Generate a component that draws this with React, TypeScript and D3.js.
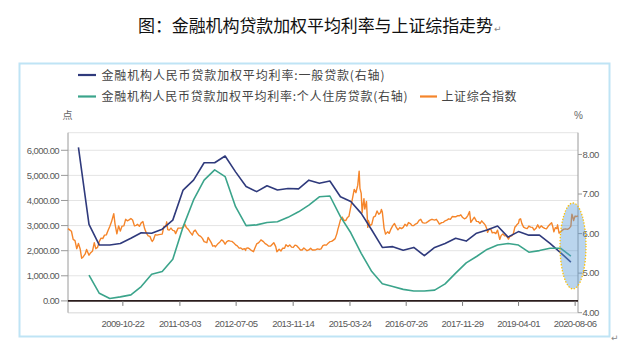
import React from 'react';
import * as d3 from 'd3';

// ---- data ----
const quarterEnds = [
  '2008-09-30', '2008-12-31',
  '2009-03-31', '2009-06-30', '2009-09-30', '2009-12-31',
  '2010-03-31', '2010-06-30', '2010-09-30', '2010-12-31',
  '2011-03-31', '2011-06-30', '2011-09-30', '2011-12-31',
  '2012-03-31', '2012-06-30', '2012-09-30', '2012-12-31',
  '2013-03-31', '2013-06-30', '2013-09-30', '2013-12-31',
  '2014-03-31', '2014-06-30', '2014-09-30', '2014-12-31',
  '2015-03-31', '2015-06-30', '2015-09-30', '2015-12-31',
  '2016-03-31', '2016-06-30', '2016-09-30', '2016-12-31',
  '2017-03-31', '2017-06-30', '2017-09-30', '2017-12-31',
  '2018-03-31', '2018-06-30', '2018-09-30', '2018-12-31',
  '2019-03-31', '2019-06-30', '2019-09-30', '2019-12-31',
  '2020-03-31', '2020-06-30',
];

const generalLoanRate = [
  8.18, 6.23, 5.71, 5.71, 5.75, 5.88, 6.02, 6.01, 6.11, 6.34,
  7.10, 7.35, 7.79, 7.79, 7.96, 7.56, 7.19, 7.06, 7.21, 7.10,
  7.14, 7.13, 7.35, 7.27, 7.33, 6.93, 6.81, 6.51, 6.09, 5.65,
  5.67, 5.58, 5.65, 5.44, 5.65, 5.75, 5.88, 5.81, 6.01, 6.09,
  6.19, 5.91, 6.05, 5.96, 5.96, 5.75, 5.52, 5.28,
];

const mortgageRate: (number | null)[] = [
  null, 4.95, 4.49, 4.36, 4.40, 4.45, 4.66, 4.97, 5.04, 5.35,
  6.17, 6.85, 7.35, 7.61, 7.44, 6.68, 6.20, 6.22, 6.28, 6.30,
  6.41, 6.55, 6.72, 6.93, 6.95, 6.43, 6.02, 5.50, 5.04, 4.73,
  4.66, 4.59, 4.55, 4.55, 4.57, 4.73, 5.00, 5.26, 5.42, 5.60,
  5.71, 5.75, 5.71, 5.53, 5.57, 5.63, 5.63, 5.43,
];

const sseDates = [
  '2008-07-01','2008-07-15','2008-07-31','2008-08-15','2008-08-31','2008-09-15','2008-09-30','2008-10-15','2008-10-28','2008-11-10','2008-11-28','2008-12-10','2008-12-31',
  '2009-01-15','2009-01-31','2009-02-15','2009-02-28','2009-03-15','2009-03-31','2009-04-15','2009-04-30','2009-05-15','2009-05-31','2009-06-15','2009-06-30','2009-07-15','2009-07-31','2009-08-04','2009-08-15','2009-08-31','2009-09-15','2009-09-30','2009-10-15','2009-10-31','2009-11-15','2009-11-30','2009-12-15','2009-12-31',
  '2010-01-15','2010-01-31','2010-02-15','2010-02-28','2010-03-15','2010-03-31','2010-04-15','2010-04-30','2010-05-15','2010-05-31','2010-06-15','2010-06-30','2010-07-05','2010-07-15','2010-07-31','2010-08-15','2010-08-31','2010-09-15','2010-09-30','2010-10-15','2010-10-31','2010-11-08','2010-11-17','2010-11-30','2010-12-15','2010-12-31',
  '2011-01-15','2011-01-25','2011-02-15','2011-02-28','2011-03-15','2011-03-31','2011-04-15','2011-04-30','2011-05-15','2011-05-31','2011-06-20','2011-06-30','2011-07-15','2011-07-31','2011-08-15','2011-08-31','2011-09-15','2011-09-30','2011-10-24','2011-11-04','2011-11-30','2011-12-15','2011-12-31',
  '2012-01-06','2012-01-31','2012-02-15','2012-02-29','2012-03-15','2012-03-31','2012-04-15','2012-04-30','2012-05-15','2012-05-31','2012-06-15','2012-06-30','2012-07-15','2012-07-31','2012-08-15','2012-08-31','2012-09-15','2012-09-26','2012-09-30','2012-10-15','2012-10-31','2012-11-15','2012-12-03','2012-12-15','2012-12-31',
  '2013-01-15','2013-01-31','2013-02-06','2013-02-28','2013-03-15','2013-03-31','2013-04-15','2013-04-30','2013-05-29','2013-06-15','2013-06-25','2013-06-30','2013-07-15','2013-07-31','2013-08-15','2013-08-31','2013-09-12','2013-09-30','2013-10-15','2013-10-31','2013-11-15','2013-11-30','2013-12-15','2013-12-31',
  '2014-01-15','2014-01-31','2014-02-15','2014-02-28','2014-03-15','2014-03-31','2014-04-15','2014-04-30','2014-05-15','2014-05-31','2014-06-15','2014-06-30','2014-07-15','2014-07-31','2014-08-15','2014-08-31','2014-09-15','2014-09-30','2014-10-15','2014-10-31','2014-11-15','2014-11-30','2014-12-09','2014-12-15','2014-12-31',
  '2015-01-15','2015-01-31','2015-02-15','2015-02-28','2015-03-15','2015-03-31','2015-04-15','2015-04-30','2015-05-15','2015-05-31','2015-06-12','2015-06-19','2015-06-30','2015-07-08','2015-07-15','2015-07-24','2015-07-31','2015-08-15','2015-08-26','2015-08-31','2015-09-15','2015-09-30','2015-10-15','2015-10-31','2015-11-15','2015-11-30','2015-12-15','2015-12-23','2015-12-31',
  '2016-01-15','2016-01-28','2016-02-15','2016-02-29','2016-03-15','2016-03-31','2016-04-15','2016-04-30','2016-05-15','2016-05-31','2016-06-15','2016-06-30','2016-07-15','2016-07-31','2016-08-15','2016-08-31','2016-09-15','2016-09-30','2016-10-15','2016-10-31','2016-11-15','2016-11-30','2016-12-15','2016-12-31',
  '2017-01-15','2017-01-31','2017-02-15','2017-02-28','2017-03-15','2017-03-31','2017-04-15','2017-04-30','2017-05-11','2017-05-31','2017-06-15','2017-06-30','2017-07-15','2017-07-31','2017-08-15','2017-08-31','2017-09-15','2017-09-30','2017-10-15','2017-10-31','2017-11-14','2017-11-30','2017-12-15','2017-12-31',
  '2018-01-15','2018-01-29','2018-02-09','2018-02-28','2018-03-12','2018-03-31','2018-04-15','2018-04-30','2018-05-15','2018-05-31','2018-06-15','2018-06-30','2018-07-05','2018-07-15','2018-07-31','2018-08-15','2018-08-31','2018-09-15','2018-09-30','2018-10-19','2018-10-31','2018-11-15','2018-11-30','2018-12-15','2018-12-31',
  '2019-01-03','2019-01-15','2019-01-31','2019-02-15','2019-02-28','2019-03-08','2019-03-15','2019-03-31','2019-04-08','2019-04-19','2019-04-30','2019-05-15','2019-05-31','2019-06-15','2019-06-30','2019-07-15','2019-07-31','2019-08-15','2019-08-31','2019-09-15','2019-09-30','2019-10-15','2019-10-31','2019-11-15','2019-11-30','2019-12-15','2019-12-31',
  '2020-01-14','2020-01-23','2020-02-03','2020-02-15','2020-02-28','2020-03-06','2020-03-19','2020-03-31','2020-04-15','2020-04-30','2020-05-15','2020-05-31','2020-06-15','2020-06-30','2020-07-06','2020-07-09','2020-07-15','2020-07-24','2020-07-31','2020-08-06','2020-08-14','2020-08-25','2020-08-31',
];

const sseValues = [
  2880, 2830, 2775, 2450, 2400, 2080, 2290, 2070, 1700, 1750, 1870, 2050, 1820,
  1920, 1990, 2320, 2080, 2130, 2370, 2500, 2480, 2620, 2630, 2800, 2960, 3150, 3410, 3470, 3060, 2670, 2990, 2780, 2980, 2990, 3250, 3190, 3230, 3280,
  3220, 2990, 3010, 3050, 2970, 3110, 3160, 2870, 2700, 2590, 2570, 2400, 2370, 2430, 2640, 2620, 2640, 2650, 2660, 2970, 2980, 3150, 2840, 2820, 2900, 2810,
  2790, 2680, 2900, 2900, 2900, 2930, 3050, 2910, 2850, 2740, 2620, 2760, 2820, 2700, 2610, 2570, 2490, 2360, 2320, 2530, 2330, 2180, 2200,
  2150, 2290, 2350, 2430, 2380, 2260, 2360, 2400, 2380, 2370, 2310, 2230, 2190, 2100, 2110, 2050, 2080, 2010, 2090, 2110, 2070, 2010, 1960, 2100, 2270,
  2310, 2390, 2430, 2360, 2280, 2240, 2180, 2180, 2320, 2160, 1960, 1980, 2060, 1990, 2100, 2100, 2240, 2170, 2230, 2140, 2130, 2220, 2200, 2120,
  2030, 2030, 2110, 2060, 2000, 2030, 2100, 2030, 2030, 2040, 2070, 2050, 2070, 2200, 2230, 2220, 2300, 2360, 2370, 2420, 2480, 2680, 2860, 2950, 3230,
  3340, 3210, 3200, 3310, 3370, 3750, 4080, 4440, 4310, 4610, 5170, 4480, 4280, 3510, 3800, 4070, 3660, 3960, 2930, 3200, 3000, 3050, 3340, 3380, 3580, 3450, 3510, 3640, 3540,
  2900, 2660, 2750, 2690, 2860, 3000, 3080, 2940, 2830, 2920, 2880, 2930, 3050, 2980, 3120, 3080, 3000, 3000, 3060, 3100, 3210, 3250, 3120, 3100,
  3110, 3160, 3210, 3240, 3240, 3220, 3250, 3150, 3060, 3120, 3130, 3190, 3220, 3270, 3250, 3360, 3350, 3350, 3390, 3390, 3430, 3320, 3270, 3310,
  3410, 3560, 3130, 3260, 3330, 3170, 3160, 3080, 3190, 3100, 3020, 2850, 2730, 2830, 2880, 2710, 2730, 2680, 2820, 2450, 2600, 2670, 2590, 2590, 2490,
  2460, 2570, 2590, 2680, 2940, 2970, 3020, 3090, 3250, 3270, 3080, 2940, 2900, 2880, 2980, 2940, 2930, 2820, 2890, 3030, 2900, 2990, 2930, 2890, 2870, 2970, 3050,
  3110, 2980, 2750, 2920, 2880, 3030, 2700, 2750, 2810, 2860, 2870, 2850, 2890, 2980, 3330, 3450, 3360, 3200, 3310, 3380, 3360, 3370, 3390,
];

const xTickDates = ['2009-10-22', '2011-03-03', '2012-07-05', '2013-11-14', '2015-03-24', '2016-07-26', '2017-11-29', '2019-04-01', '2020-08-06'];
const leftTicks = [0, 1000, 2000, 3000, 4000, 5000, 6000];
const rightTicks = [4, 5, 6, 7, 8];

const titleText = '图：金融机构贷款加权平均利率与上证综指走势';
const seriesNames = [
  '金融机构人民币贷款加权平均利率:一般贷款(右轴)',
  '金融机构人民币贷款加权平均利率:个人住房贷款(右轴)',
  '上证综合指数',
];

// ---- styles ----
const C_BLUE = '#2f3a7c';
const C_GREEN = '#3ba48b';
const C_ORANGE = '#f5852a';
const CJK = '"Noto Sans CJK SC", "Noto Sans", sans-serif';
const LAT = '"Liberation Sans", Arial, sans-serif';

export default function App() {
  const parse = d3.utcParse('%Y-%m-%d');
  const x = d3.scaleUtc()
    .domain([parse('2008-07-01') as Date, parse('2020-08-31') as Date])
    .range([68, 578]);
  const yL = d3.scaleLinear().domain([-470, 6700]).range([312.7, 132.7]);
  const yR = d3.scaleLinear().domain([4, 8.55]).range([312.7, 132.7]);

  const qDates = quarterEnds.map((d) => parse(d) as Date);
  const sDates = sseDates.map((d) => parse(d) as Date);

  const rateLine = d3.line<number | null>()
    .defined((d) => d != null)
    .x((_, i) => x(qDates[i]))
    .y((d) => yR(d as number));
  const sseLine = d3.line<number>()
    .x((_, i) => x(sDates[i]))
    .y((d) => yL(d));

  const fmtL = d3.format(',.2f');
  const fmtR = d3.format('.2f');
  const top = yL.range()[1];
  const bottom = yL.range()[0];
  const [xl, xr] = x.range();

  return (
    <div style={{ position: 'absolute', left: 0, top: 0 }}>
      <svg width={623} height={359} style={{ display: 'block', background: '#fff' }}>
        {/* title */}
        <text x={138} y={32} fontFamily={CJK} fontSize={17} fill="#111" textLength={355} lengthAdjust="spacing">
          {titleText}
        </text>
        <text x={494} y={32} fontFamily='"DejaVu Sans", sans-serif' fontSize={9} fill="#888">↵</text>

        {/* frame */}
        <rect x={19.5} y={63.5} width={590} height={273} fill="none" stroke="#bfe4f5" strokeWidth={2} />
        <text x={611} y={341} fontFamily='"DejaVu Sans", sans-serif' fontSize={9} fill="#888">↵</text>

        {/* legend */}
        <line x1={78} x2={96} y1={75} y2={75} stroke={C_BLUE} strokeWidth={2.2} />
        <text x={101.5} y={79.5} fontFamily={CJK} fontSize={12} fill="#444" textLength={283} lengthAdjust="spacing">{seriesNames[0]}</text>
        <line x1={78} x2={96} y1={96.5} y2={96.5} stroke={C_GREEN} strokeWidth={2.2} />
        <text x={101.5} y={101} fontFamily={CJK} fontSize={12} fill="#444" textLength={306} lengthAdjust="spacing">{seriesNames[1]}</text>
        <line x1={420} x2={437} y1={96.5} y2={96.5} stroke={C_ORANGE} strokeWidth={2.2} />
        <text x={441.5} y={101} fontFamily={CJK} fontSize={12} fill="#444" textLength={75} lengthAdjust="spacing">{seriesNames[2]}</text>

        <text x={67.5} y={119} textAnchor="middle" fontFamily={CJK} fontSize={10} fill="#666">点</text>
        <text x={578.5} y={119} textAnchor="middle" fontFamily={LAT} fontSize={10} fill="#666">%</text>

        {/* gridlines */}
        {leftTicks.filter((t) => t !== 0).map((t) => (
          <line key={'g' + t} x1={xl} x2={xr} y1={yL(t)} y2={yL(t)} stroke="#e4e4e4" strokeWidth={1} />
        ))}
        <line x1={xl} x2={xr} y1={top} y2={top} stroke="#e4e4e4" strokeWidth={1} />
        <line x1={xl} x2={xr} y1={bottom} y2={bottom} stroke="#e4e4e4" strokeWidth={1.5} />

        {/* axes */}
        <line x1={xl} x2={xl} y1={top} y2={bottom} stroke="#9a9a9a" strokeWidth={1} />
        <line x1={xr} x2={xr} y1={top} y2={bottom} stroke="#9a9a9a" strokeWidth={1} />
        {leftTicks.map((t) => (
          <g key={'l' + t}>
            <line x1={xl - 7} x2={xl} y1={yL(t)} y2={yL(t)} stroke="#9a9a9a" />
            <text x={xl - 9} y={yL(t) + 3.3} textAnchor="end" fontFamily={LAT} fontSize={9.5} letterSpacing={-0.6} fill="#595959">{fmtL(t)}</text>
          </g>
        ))}
        {rightTicks.map((t) => (
          <g key={'r' + t}>
            <line x1={xr} x2={xr + 4} y1={yR(t)} y2={yR(t)} stroke="#9a9a9a" />
            <text x={xr + 4.5} y={yR(t) + 3.3} textAnchor="start" fontFamily={LAT} fontSize={9.5} letterSpacing={-0.6} fill="#595959">{fmtR(t)}</text>
          </g>
        ))}

        {/* series */}
        <path d={sseLine(sseValues) || ''} fill="none" stroke={C_ORANGE} strokeWidth={1.4} strokeLinejoin="round" />
        <path d={rateLine(generalLoanRate) || ''} fill="none" stroke={C_BLUE} strokeWidth={1.6} strokeLinejoin="round" />
        <path d={rateLine(mortgageRate) || ''} fill="none" stroke={C_GREEN} strokeWidth={1.6} strokeLinejoin="round" />

        {/* zero line + x ticks */}
        <line x1={xl} x2={xr} y1={yL(0)} y2={yL(0)} stroke="#2b1d1d" strokeWidth={1.6} />
        {xTickDates.map((d) => {
          const px = x(parse(d) as Date);
          return (
            <g key={d}>
              <line x1={px} x2={px} y1={yL(0)} y2={yL(0) + 5} stroke="#7a7a7a" />
              <text x={px} y={326.8} textAnchor="middle" fontFamily={LAT} fontSize={9.5} letterSpacing={-0.6} fill="#595959">{d}</text>
            </g>
          );
        })}

        {/* highlight ellipse */}
        <ellipse cx={573} cy={246} rx={13} ry={43} fill="#5b9bd5" fillOpacity={0.42} stroke="#ffc000" strokeWidth={1.3} strokeDasharray="1.4 1.6" />
      </svg>
    </div>
  );
}
